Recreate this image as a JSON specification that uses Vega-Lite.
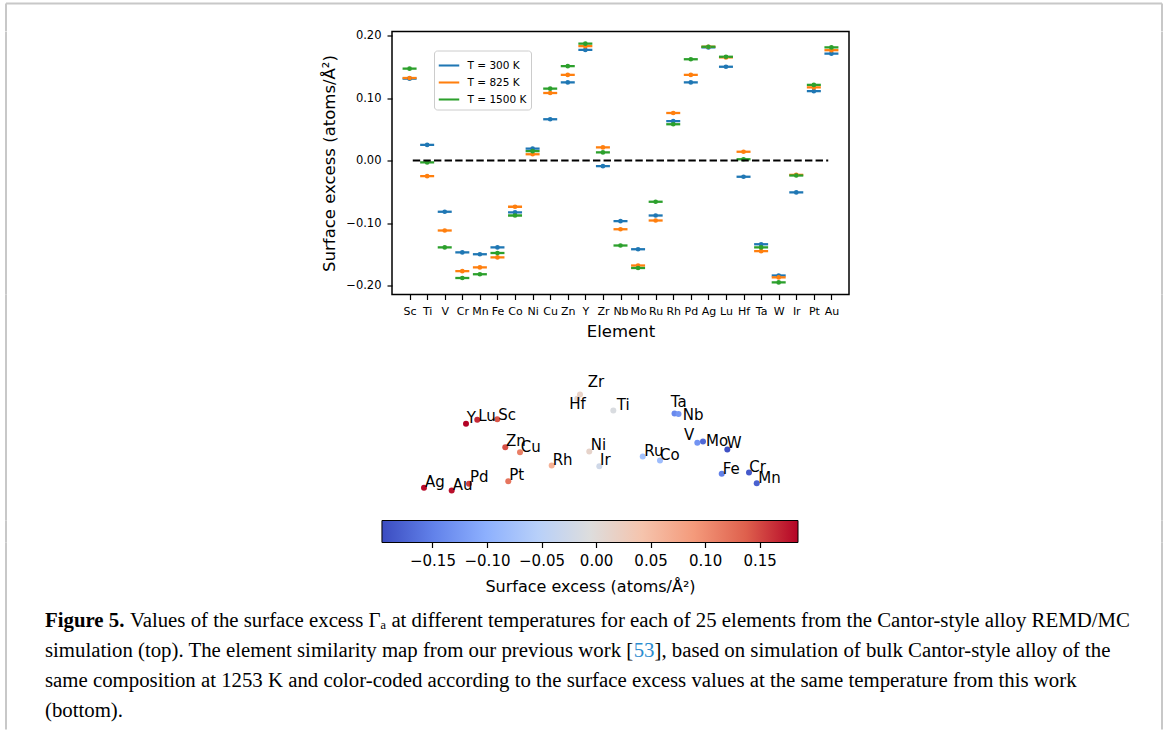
{
  "$schema": "https://vega.github.io/schema/vega-lite/v6.json",
  "padding": {"left": 5, "top": 2.5, "right": 0, "bottom": 0},
  "background": "white",
  "config": {
    "font": "DejaVu Sans",
    "view": {"stroke": null},
    "axis": {"labelColor": "black", "titleColor": "black", "tickColor": "black", "domainColor": "black", "titleFontWeight": "normal", "grid": false, "labelFlush": false, "labelFont": "DejaVu Sans", "titleFont": "DejaVu Sans"}
  },
  "datasets": {
    "surf": [
      {"el": "Sc", "T": "T = 300 K", "v": 0.131}, {"el": "Ti", "T": "T = 300 K", "v": 0.025}, {"el": "V", "T": "T = 300 K", "v": -0.082}, {"el": "Cr", "T": "T = 300 K", "v": -0.147}, {"el": "Mn", "T": "T = 300 K", "v": -0.150},
      {"el": "Fe", "T": "T = 300 K", "v": -0.139}, {"el": "Co", "T": "T = 300 K", "v": -0.083}, {"el": "Ni", "T": "T = 300 K", "v": 0.019}, {"el": "Cu", "T": "T = 300 K", "v": 0.066}, {"el": "Zn", "T": "T = 300 K", "v": 0.125},
      {"el": "Y", "T": "T = 300 K", "v": 0.177}, {"el": "Zr", "T": "T = 300 K", "v": -0.009}, {"el": "Nb", "T": "T = 300 K", "v": -0.097}, {"el": "Mo", "T": "T = 300 K", "v": -0.142}, {"el": "Ru", "T": "T = 300 K", "v": -0.088},
      {"el": "Rh", "T": "T = 300 K", "v": 0.063}, {"el": "Pd", "T": "T = 300 K", "v": 0.125}, {"el": "Ag", "T": "T = 300 K", "v": 0.181}, {"el": "Lu", "T": "T = 300 K", "v": 0.150}, {"el": "Hf", "T": "T = 300 K", "v": -0.026},
      {"el": "Ta", "T": "T = 300 K", "v": -0.134}, {"el": "W", "T": "T = 300 K", "v": -0.184}, {"el": "Ir", "T": "T = 300 K", "v": -0.051}, {"el": "Pt", "T": "T = 300 K", "v": 0.111}, {"el": "Au", "T": "T = 300 K", "v": 0.171},
      {"el": "Sc", "T": "T = 825 K", "v": 0.132}, {"el": "Ti", "T": "T = 825 K", "v": -0.025}, {"el": "V", "T": "T = 825 K", "v": -0.112}, {"el": "Cr", "T": "T = 825 K", "v": -0.177}, {"el": "Mn", "T": "T = 825 K", "v": -0.171},
      {"el": "Fe", "T": "T = 825 K", "v": -0.155}, {"el": "Co", "T": "T = 825 K", "v": -0.074}, {"el": "Ni", "T": "T = 825 K", "v": 0.010}, {"el": "Cu", "T": "T = 825 K", "v": 0.108}, {"el": "Zn", "T": "T = 825 K", "v": 0.137},
      {"el": "Y", "T": "T = 825 K", "v": 0.183}, {"el": "Zr", "T": "T = 825 K", "v": 0.021}, {"el": "Nb", "T": "T = 825 K", "v": -0.110}, {"el": "Mo", "T": "T = 825 K", "v": -0.168}, {"el": "Ru", "T": "T = 825 K", "v": -0.096},
      {"el": "Rh", "T": "T = 825 K", "v": 0.076}, {"el": "Pd", "T": "T = 825 K", "v": 0.137}, {"el": "Ag", "T": "T = 825 K", "v": 0.182}, {"el": "Lu", "T": "T = 825 K", "v": 0.165}, {"el": "Hf", "T": "T = 825 K", "v": 0.014},
      {"el": "Ta", "T": "T = 825 K", "v": -0.145}, {"el": "W", "T": "T = 825 K", "v": -0.187}, {"el": "Ir", "T": "T = 825 K", "v": -0.023}, {"el": "Pt", "T": "T = 825 K", "v": 0.117}, {"el": "Au", "T": "T = 825 K", "v": 0.1765},
      {"el": "Sc", "T": "T = 1500 K", "v": 0.147}, {"el": "Ti", "T": "T = 1500 K", "v": -0.003}, {"el": "V", "T": "T = 1500 K", "v": -0.139}, {"el": "Cr", "T": "T = 1500 K", "v": -0.188}, {"el": "Mn", "T": "T = 1500 K", "v": -0.182},
      {"el": "Fe", "T": "T = 1500 K", "v": -0.148}, {"el": "Co", "T": "T = 1500 K", "v": -0.088}, {"el": "Ni", "T": "T = 1500 K", "v": 0.015}, {"el": "Cu", "T": "T = 1500 K", "v": 0.115}, {"el": "Zn", "T": "T = 1500 K", "v": 0.151},
      {"el": "Y", "T": "T = 1500 K", "v": 0.187}, {"el": "Zr", "T": "T = 1500 K", "v": 0.013}, {"el": "Nb", "T": "T = 1500 K", "v": -0.136}, {"el": "Mo", "T": "T = 1500 K", "v": -0.172}, {"el": "Ru", "T": "T = 1500 K", "v": -0.066},
      {"el": "Rh", "T": "T = 1500 K", "v": 0.058}, {"el": "Pd", "T": "T = 1500 K", "v": 0.162}, {"el": "Ag", "T": "T = 1500 K", "v": 0.182}, {"el": "Lu", "T": "T = 1500 K", "v": 0.166}, {"el": "Hf", "T": "T = 1500 K", "v": 0.002},
      {"el": "Ta", "T": "T = 1500 K", "v": -0.139}, {"el": "W", "T": "T = 1500 K", "v": -0.195}, {"el": "Ir", "T": "T = 1500 K", "v": -0.024}, {"el": "Pt", "T": "T = 1500 K", "v": 0.121}, {"el": "Au", "T": "T = 1500 K", "v": 0.181}
    ],
    "map": [
      {"el": "Hf", "u": -0.318, "v": 0.918, "lu": -0.518, "lv": 0.783, "g": 0.006},
      {"el": "Zr", "u": -0.25, "v": 1.025, "lu": -0.058, "lv": 1.333, "g": 0.016},
      {"el": "Ti", "u": 0.583, "v": 0.625, "lu": 0.668, "lv": 0.768, "g": -0.011},
      {"el": "Y", "u": -3.1, "v": 0.293, "lu": -3.083, "lv": 0.443, "g": 0.186},
      {"el": "Lu", "u": -2.818, "v": 0.393, "lu": -2.793, "lv": 0.493, "g": 0.166},
      {"el": "Sc", "u": -2.318, "v": 0.408, "lu": -2.293, "lv": 0.525, "g": 0.142},
      {"el": "Zn", "u": -2.118, "v": -0.293, "lu": -2.1, "lv": -0.138, "g": 0.146},
      {"el": "Cu", "u": -1.75, "v": -0.418, "lu": -1.733, "lv": -0.293, "g": 0.112},
      {"el": "Rh", "u": -0.958, "v": -0.75, "lu": -0.933, "lv": -0.6, "g": 0.064},
      {"el": "Ni", "u": -0.018, "v": -0.4, "lu": 0.018, "lv": -0.243, "g": 0.013},
      {"el": "Ir", "u": 0.233, "v": -0.768, "lu": 0.25, "lv": -0.6, "g": -0.024},
      {"el": "Ag", "u": -4.15, "v": -1.308, "lu": -4.125, "lv": -1.168, "g": 0.182},
      {"el": "Au", "u": -3.458, "v": -1.375, "lu": -3.433, "lv": -1.225, "g": 0.179},
      {"el": "Pd", "u": -3.025, "v": -1.208, "lu": -3.0, "lv": -1.033, "g": 0.153},
      {"el": "Pt", "u": -2.043, "v": -1.143, "lu": -2.018, "lv": -0.983, "g": 0.120},
      {"el": "Ta", "u": 2.113, "v": 0.55, "lu": 2.018, "lv": 0.843, "g": -0.141},
      {"el": "Nb", "u": 2.213, "v": 0.538, "lu": 2.318, "lv": 0.508, "g": -0.127},
      {"el": "V", "u": 2.683, "v": -0.183, "lu": 2.35, "lv": 0.025, "g": -0.130},
      {"el": "Mo", "u": 2.825, "v": -0.15, "lu": 2.9, "lv": -0.133, "g": -0.171},
      {"el": "W", "u": 3.433, "v": -0.35, "lu": 3.418, "lv": -0.183, "g": -0.192},
      {"el": "Ru", "u": 1.318, "v": -0.525, "lu": 1.358, "lv": -0.388, "g": -0.076},
      {"el": "Co", "u": 1.75, "v": -0.625, "lu": 1.75, "lv": -0.488, "g": -0.083},
      {"el": "Fe", "u": 3.293, "v": -0.958, "lu": 3.318, "lv": -0.825, "g": -0.150},
      {"el": "Cr", "u": 3.975, "v": -0.925, "lu": 3.983, "lv": -0.775, "g": -0.184},
      {"el": "Mn", "u": 4.168, "v": -1.193, "lu": 4.208, "lv": -1.063, "g": -0.178}
    ],
    "cbar": [{"lo": -0.1963, "hi": 0.1852}],
    "cap": [
      {"line": 1, "part": "bold", "text": "Figure 5."},
      {"line": 1, "part": "rest", "text": "Values of the surface excess Γₐ at different temperatures for each of 25 elements from the Cantor-style alloy REMD/MC"},
      {"line": 2, "part": "plain", "text": "simulation (top). The element similarity map from our previous work ["},
      {"line": 2, "part": "ref", "text": "53"},
      {"line": 2, "part": "after", "text": "], based on simulation of bulk Cantor-style alloy of the"},
      {"line": 3, "part": "plain", "text": "same composition at 1253 K and color-coded according to the surface excess values at the same temperature from this work"},
      {"line": 4, "part": "plain", "text": "(bottom)."}
    ]
  },
  "columns": 3,
  "spacing": 0,
  "bounds": "flush",
  "resolve": {"scale": {"color": "independent"}},
  "concat": [
    {
      "width": 386, "height": 27.5, "data": {"values": [{}]},
      "layer": [
        {"mark": {"type": "rule", "color": "#c8c8c8", "strokeWidth": 2}, "encoding": {"x": {"datum": 0, "type": "quantitative", "scale": {"domain": [0, 1], "nice": false, "zero": false}, "axis": null}}},
        {"mark": {"type": "rule", "color": "#c8c8c8", "strokeWidth": 2}, "encoding": {"y": {"datum": 1, "type": "quantitative", "scale": {"domain": [0, 1], "nice": false, "zero": false}, "axis": null}}}
      ]
    },
    {
      "width": 457, "height": 27.5, "data": {"values": [{}]},
      "mark": {"type": "rule", "color": "#c8c8c8", "strokeWidth": 2},
      "encoding": {"y": {"datum": 1, "type": "quantitative", "scale": {"domain": [0, 1], "nice": false, "zero": false}, "axis": null}}
    },
    {
      "width": 313, "height": 27.5, "data": {"values": [{}]},
      "layer": [
        {"mark": {"type": "rule", "color": "#c8c8c8", "strokeWidth": 2}, "encoding": {"x": {"datum": 1, "type": "quantitative", "scale": {"domain": [0, 1], "nice": false, "zero": false}, "axis": null}}},
        {"mark": {"type": "rule", "color": "#c8c8c8", "strokeWidth": 2}, "encoding": {"y": {"datum": 1, "type": "quantitative", "scale": {"domain": [0, 1], "nice": false, "zero": false}, "axis": null}}}
      ]
    },
    {"width": 386, "height": 263, "data": {"values": [{}]}, "mark": {"type": "rule", "color": "#c8c8c8", "strokeWidth": 2}, "encoding": {"x": {"datum": 0, "type": "quantitative", "scale": {"domain": [0, 1], "nice": false, "zero": false}, "axis": null}}},
    {
      "width": 457,
      "height": 263,
      "view": {"stroke": "black", "strokeWidth": 1.5},
      "resolve": {"scale": {"x": "independent"}},
      "layer": [
        {
          "data": {"name": "surf"},
          "layer": [
            {
              "mark": {"type": "tick", "orient": "horizontal", "size": 14, "thickness": 2.3, "opacity": 1},
              "encoding": {
                "x": {"field": "el", "type": "nominal", "sort": null, "scale": {"type": "point", "padding": 1.75, "domain": ["Sc", "Ti", "V", "Cr", "Mn", "Fe", "Co", "Ni", "Cu", "Zn", "Y", "Zr", "Nb", "Mo", "Ru", "Rh", "Pd", "Ag", "Lu", "Hf", "Ta", "W", "Ir", "Pt", "Au"]}, "axis": {"title": "Element", "labelAngle": 0, "labelFontSize": 11, "titleFontSize": 16.5, "tickSize": 5, "tickWidth": 1.2, "labelPadding": 6, "titlePadding": 7, "domain": false}},
                "y": {"field": "v", "type": "quantitative", "scale": {"domain": [-0.2144, 0.2064], "nice": false, "zero": false}, "axis": {"title": "Surface excess (atoms/Å²)", "values": [-0.2, -0.15, -0.1, -0.05, 0, 0.05, 0.1, 0.15, 0.2], "format": ".2f", "labelFontSize": 11.5, "titleFontSize": 16.5, "tickSize": 5, "tickWidth": 1.2, "labelPadding": 6, "titlePadding": 8, "domain": false}},
                "color": {"field": "T", "type": "nominal", "sort": null, "scale": {"domain": ["T = 300 K", "T = 825 K", "T = 1500 K"], "range": ["#1f77b4", "#ff7f0e", "#2ca02c"]},
                  "legend": {"orient": "none", "legendX": 42, "legendY": 19, "title": null, "symbolType": "M-1,-0.1H1V0.1H-1Z", "symbolSize": 420, "symbolStrokeWidth": 0, "labelFontSize": 10.5, "labelOffset": 8, "padding": 4.5, "rowPadding": 1, "strokeColor": "#cccccc", "fillColor": "white", "cornerRadius": 3, "labelColor": "black"}}
              }
            },
            {
              "mark": {"type": "circle", "size": 22, "opacity": 1},
              "encoding": {
                "x": {"field": "el", "type": "nominal", "sort": null},
                "y": {"field": "v", "type": "quantitative"},
                "color": {"field": "T", "type": "nominal", "sort": null}
              }
            }
          ]
        },
        {
          "data": {"values": [{}]},
          "mark": {"type": "rule", "color": "black", "strokeWidth": 2, "strokeDash": [7.4, 3.2]},
          "encoding": {
            "x": {"datum": -0.5, "type": "quantitative", "scale": {"domain": [-1.75, 25.75], "nice": false, "zero": false}, "axis": null},
            "x2": {"datum": 24.5},
            "y": {"datum": 0, "type": "quantitative"}
          }
        }
      ]
    },
    {"width": 313, "height": 263, "data": {"values": [{}]}, "mark": {"type": "rule", "color": "#c8c8c8", "strokeWidth": 2}, "encoding": {"x": {"datum": 1, "type": "quantitative", "scale": {"domain": [0, 1], "nice": false, "zero": false}, "axis": null}}},
    {"width": 386, "height": 226, "data": {"values": [{}]}, "mark": {"type": "rule", "color": "#c8c8c8", "strokeWidth": 2}, "encoding": {"x": {"datum": 0, "type": "quantitative", "scale": {"domain": [0, 1], "nice": false, "zero": false}, "axis": null}}},
    {
      "width": 406,
      "height": 226,
      "data": {"name": "map"},
      "layer": [
        {
          "mark": {"type": "circle", "size": 36, "opacity": 1},
          "encoding": {
            "x": {"field": "u", "type": "quantitative", "scale": {"domain": [-4.95, 5.2], "nice": false, "zero": false}, "axis": null},
            "y": {"field": "v", "type": "quantitative", "scale": {"domain": [-2.125, 3.525], "nice": false, "zero": false}, "axis": null},
            "color": {"field": "g", "type": "quantitative", "legend": null, "scale": {"domain": [-0.1963, -0.1486, -0.1009, -0.0532, -0.0055, 0.0422, 0.0899, 0.1376, 0.1852], "range": ["#3b4cc0", "#6282ea", "#8db0fe", "#b8d0f9", "#dddddd", "#f5c4ad", "#f49a7b", "#de604d", "#b40426"], "interpolate": "rgb"}}
          }
        },
        {
          "mark": {"type": "text", "align": "left", "baseline": "middle", "fontSize": 15, "font": "DejaVu Sans", "color": "black"},
          "encoding": {
            "x": {"field": "lu", "type": "quantitative"},
            "y": {"field": "lv", "type": "quantitative"},
            "text": {"field": "el"}
          }
        }
      ]
    },
    {"width": 313, "height": 226, "data": {"values": [{}]}, "mark": {"type": "rule", "color": "#c8c8c8", "strokeWidth": 2}, "encoding": {"x": {"datum": 1, "type": "quantitative", "scale": {"domain": [0, 1], "nice": false, "zero": false}, "axis": null}}},
    {"width": 386, "height": 22, "data": {"values": [{}]}, "mark": {"type": "rule", "color": "#c8c8c8", "strokeWidth": 2}, "encoding": {"x": {"datum": 0, "type": "quantitative", "scale": {"domain": [0, 1], "nice": false, "zero": false}, "axis": null}}},
    {
      "width": 406,
      "height": 22,
      "data": {"name": "cbar"},
      "mark": {"type": "rect", "stroke": "black", "strokeWidth": 1, "fill": {"gradient": "linear", "x1": 0, "y1": 0, "x2": 1, "y2": 0, "stops": [
        {"offset": 0, "color": "#3b4cc0"}, {"offset": 0.125, "color": "#6282ea"}, {"offset": 0.25, "color": "#8db0fe"}, {"offset": 0.375, "color": "#b8d0f9"}, {"offset": 0.5, "color": "#dddddd"}, {"offset": 0.625, "color": "#f5c4ad"}, {"offset": 0.75, "color": "#f49a7b"}, {"offset": 0.875, "color": "#de604d"}, {"offset": 1, "color": "#b40426"}]}},
      "encoding": {
        "x": {"field": "lo", "type": "quantitative", "scale": {"domain": [-0.1871, 0.1852], "nice": false, "zero": false}, "axis": {"title": "Surface excess (atoms/Å²)", "titleX": 198, "values": [-0.15, -0.1, -0.05, 0, 0.05, 0.1, 0.15], "format": ".2f", "labelFontSize": 15, "titleFontSize": 16, "tickSize": 5, "tickWidth": 1.2, "labelPadding": 6, "titlePadding": 10, "domain": false}},
        "x2": {"field": "hi"}
      }
    },
    {"width": 313, "height": 22, "data": {"values": [{}]}, "mark": {"type": "rule", "color": "#c8c8c8", "strokeWidth": 2}, "encoding": {"x": {"datum": 1, "type": "quantitative", "scale": {"domain": [0, 1], "nice": false, "zero": false}, "axis": null}}},
    {
      "width": 386,
      "height": 187,
      "data": {"name": "cap"},
      "layer": [
        {"data": {"values": [{}]}, "mark": {"type": "rule", "color": "#c8c8c8", "strokeWidth": 2}, "encoding": {"x": {"datum": 0, "type": "quantitative", "scale": {"domain": [0, 1], "nice": false, "zero": false}, "axis": null}}},
        {
          "transform": [{"filter": "datum.part == 'bold'"}],
          "mark": {"type": "text", "font": "Liberation Serif", "fontSize": 20.8, "fontWeight": "bold", "align": "left", "baseline": "middle", "color": "black", "dx": 39},
          "encoding": {
            "x": {"datum": 0, "type": "quantitative"},
            "y": {"field": "line", "type": "quantitative", "scale": {"domain": [-1.633, 4.6], "reverse": true, "nice": false, "zero": false}, "axis": null},
            "text": {"field": "text"}
          }
        },
        {
          "transform": [{"filter": "datum.part == 'rest'"}],
          "mark": {"type": "text", "font": "Liberation Serif", "fontSize": 20.8, "align": "left", "baseline": "middle", "color": "black", "dx": 124},
          "encoding": {
            "x": {"datum": 0, "type": "quantitative"},
            "y": {"field": "line", "type": "quantitative"},
            "text": {"field": "text"}
          }
        },
        {
          "transform": [{"filter": "datum.part == 'plain'"}],
          "mark": {"type": "text", "font": "Liberation Serif", "fontSize": 20.8, "align": "left", "baseline": "middle", "color": "black", "dx": 39},
          "encoding": {
            "x": {"datum": 0, "type": "quantitative"},
            "y": {"field": "line", "type": "quantitative"},
            "text": {"field": "text"}
          }
        },
        {
          "transform": [{"filter": "datum.part == 'ref'"}],
          "mark": {"type": "text", "font": "Liberation Serif", "fontSize": 20.8, "align": "left", "baseline": "middle", "color": "#2b8ccf", "dx": 627.7},
          "encoding": {
            "x": {"datum": 0, "type": "quantitative"},
            "y": {"field": "line", "type": "quantitative"},
            "text": {"field": "text"}
          }
        },
        {
          "transform": [{"filter": "datum.part == 'after'"}],
          "mark": {"type": "text", "font": "Liberation Serif", "fontSize": 20.8, "align": "left", "baseline": "middle", "color": "black", "dx": 648.5},
          "encoding": {
            "x": {"datum": 0, "type": "quantitative"},
            "y": {"field": "line", "type": "quantitative"},
            "text": {"field": "text"}
          }
        }
      ]
    },
    {"width": 457, "height": 187, "data": {"values": []}, "mark": "point"},
    {"width": 313, "height": 187, "data": {"values": [{}]}, "mark": {"type": "rule", "color": "#c8c8c8", "strokeWidth": 2}, "encoding": {"x": {"datum": 1, "type": "quantitative", "scale": {"domain": [0, 1], "nice": false, "zero": false}, "axis": null}}}
  ]
}
